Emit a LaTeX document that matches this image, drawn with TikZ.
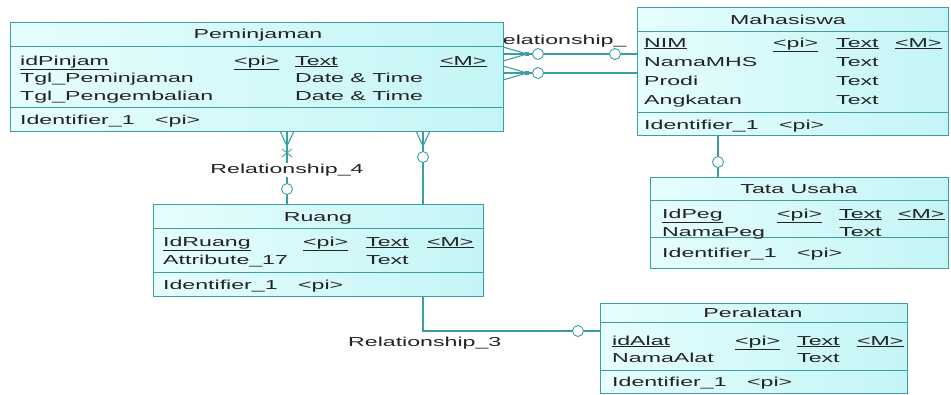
\documentclass[tikz,border=0pt]{standalone}
\usepackage{fontspec}
\setmainfont{Liberation Sans}
\usepackage{graphicx}
\usetikzlibrary{backgrounds}
\definecolor{erline}{RGB}{60,158,162}
\definecolor{erfillA}{RGB}{230,253,253}
\definecolor{erfillB}{RGB}{196,245,246}
\definecolor{ertext}{RGB}{35,35,35}
\newcommand{\erw}[1]{\scalebox{1.78}[1]{#1}}
\tikzset{
  ent/.style={draw=erline, line width=1pt, left color=erfillA, right color=erfillB, inner sep=0pt, anchor=north west},
  sepl/.style={draw=erline, line width=1pt},
  txt/.style={inner sep=0pt, anchor=base west, text=ertext, font=\fontsize{13}{15}\selectfont},
  ttl/.style={txt, anchor=base},
  rel/.style={draw=erline, line width=1.1pt},
  opt/.style={circle, draw=erline, fill=white, line width=0.9pt, minimum size=11pt, inner sep=0pt},
  dot/.style={rectangle, fill=erline, minimum size=3.5pt, inner sep=0pt},
  rlbl/.style={txt, fill=white, inner sep=1pt}
}
\begin{document}
\begin{tikzpicture}[x=1pt, y=-1pt]
\useasboundingbox (0,0) rectangle (951,394);
% entities
\node[ent, minimum width=493pt, minimum height=109pt] (pem) at (10,22) {};
\draw[sepl] (pem.west |- 0,46) -- (pem.east |- 0,46) (pem.west |- 0,107) -- (pem.east |- 0,107);
\node[ttl] (pem-t) at (258,38) {\erw{Peminjaman}};
\node[txt] (pem-k) at (20,65) {\erw{\underline{idPinjam}}};
\node[txt] (pem-p) at (234,65) {\erw{\underline{<pi>}}};
\node[txt] (pem-d) at (295,65) {\erw{\underline{Text}}};
\node[txt] (pem-m) at (440,65) {\erw{\underline{<M>}}};
\foreach \i/\y/\nm in {1/82/Tgl\_Peminjaman, 2/100/Tgl\_Pengembalian}{
  \node[txt] (pem-a\i) at (20,\y) {\erw{\nm}};
  \node[txt] (pem-d\i) at (295,\y) {\erw{Date \& Time}};
}
\node[txt] (pem-i) at (20,124) {\erw{Identifier\_1\hspace{11.5pt}<pi>}};

\node[ent, minimum width=311pt, minimum height=128pt] (mhs) at (637,7) {};
\draw[sepl] (mhs.west |- 0,31) -- (mhs.east |- 0,31) (mhs.west |- 0,112) -- (mhs.east |- 0,112);
\node[ttl] (mhs-t) at (788,24) {\erw{Mahasiswa}};
\node[txt] (mhs-k) at (644,47) {\erw{\underline{NIM}}};
\node[txt] (mhs-p) at (773,47) {\erw{\underline{<pi>}}};
\node[txt] (mhs-d) at (836,47) {\erw{\underline{Text}}};
\node[txt] (mhs-m) at (895,47) {\erw{\underline{<M>}}};
\foreach \i/\y/\nm in {1/66/NamaMHS, 2/85/Prodi, 3/104/Angkatan}{
  \node[txt] (mhs-a\i) at (644,\y) {\erw{\nm}};
  \node[txt] (mhs-d\i) at (836,\y) {\erw{Text}};
}
\node[txt] (mhs-i) at (644,129) {\erw{Identifier\_1\hspace{11.5pt}<pi>}};

\node[ent, minimum width=298pt, minimum height=91pt] (tu) at (650,177) {};
\draw[sepl] (tu.west |- 0,200) -- (tu.east |- 0,200) (tu.west |- 0,237) -- (tu.east |- 0,237);
\node[ttl] (tu-t) at (799,193) {\erw{Tata Usaha}};
\node[txt] (tu-k) at (662,218) {\erw{\underline{IdPeg}}};
\node[txt] (tu-p) at (777,218) {\erw{\underline{<pi>}}};
\node[txt] (tu-d) at (839,218) {\erw{\underline{Text}}};
\node[txt] (tu-m) at (898,218) {\erw{\underline{<M>}}};
\node[txt] (tu-a1) at (662,236) {\erw{NamaPeg}};
\node[txt] (tu-d1) at (839,236) {\erw{Text}};
\node[txt] (tu-i) at (662,257) {\erw{Identifier\_1\hspace{11.5pt}<pi>}};

\node[ent, minimum width=330pt, minimum height=92pt] (ruang) at (153,204) {};
\draw[sepl] (ruang.west |- 0,228) -- (ruang.east |- 0,228) (ruang.west |- 0,272) -- (ruang.east |- 0,272);
\node[ttl] (ruang-t) at (318,221) {\erw{Ruang}};
\node[txt] (ruang-k) at (163,246) {\erw{\underline{IdRuang}}};
\node[txt] (ruang-p) at (303,246) {\erw{\underline{<pi>}}};
\node[txt] (ruang-d) at (366,246) {\erw{\underline{Text}}};
\node[txt] (ruang-m) at (427,246) {\erw{\underline{<M>}}};
\node[txt] (ruang-a1) at (163,264) {\erw{Attribute\_17}};
\node[txt] (ruang-d1) at (366,264) {\erw{Text}};
\node[txt] (ruang-i) at (163,289) {\erw{Identifier\_1\hspace{11.5pt}<pi>}};

\node[ent, minimum width=307pt, minimum height=90pt] (alat) at (600,303) {};
\draw[sepl] (alat.west |- 0,322) -- (alat.east |- 0,322) (alat.west |- 0,370) -- (alat.east |- 0,370);
\node[ttl] (alat-t) at (753,317) {\erw{Peralatan}};
\node[txt] (alat-k) at (612,345) {\erw{\underline{idAlat}}};
\node[txt] (alat-p) at (735,345) {\erw{\underline{<pi>}}};
\node[txt] (alat-d) at (797,345) {\erw{\underline{Text}}};
\node[txt] (alat-m) at (857,345) {\erw{\underline{<M>}}};
\node[txt] (alat-a1) at (612,362) {\erw{NamaAlat}};
\node[txt] (alat-d1) at (797,362) {\erw{Text}};
\node[txt] (alat-i) at (612,386) {\erw{Identifier\_1\hspace{11.5pt}<pi>}};

% relationships
\coordinate (c1) at (527,54);
\coordinate (c2) at (527,73);
\draw[rel] (pem.east |- c1) -- (mhs.west |- c1);
\draw[rel] (pem.east |- c2) -- (mhs.west |- c2);
\draw[rel] (c1) -- ++(-24,-7) (c1) -- ++(-24,7);
\draw[rel] (c2) -- ++(-24,-7) (c2) -- ++(-24,7);
\node[dot] (c1-d) at (c1) {};
\node[dot] (c2-d) at (c2) {};
\node[opt] (c1-o) at (538,54) {};
\node[opt] (c1-m) at (615,54) {};
\node[opt] (c2-o) at (538,73) {};
\begin{scope}[on background layer]
\node[txt] (r1) at (486,44) {\erw{Relationship\_}};
\end{scope}

\coordinate (r4) at (287,146);
\draw[rel] (r4 |- pem.south) -- (r4 |- ruang.north);
\draw[rel] (r4) -- ++(-7,-15) (r4) -- ++(7,-15);
\draw[rel, line width=0.8pt] (282,149) -- (292,157) (292,149) -- (282,157);
\node[rlbl, anchor=base] (r4-l) at (287,173) {\erw{Relationship\_4}};
\node[opt] (r4-o) at (287,189) {};

\coordinate (r2) at (423,146);
\draw[rel] (r2 |- pem.south) -- (r2 |- ruang.north);
\draw[rel] (r2) -- ++(-7,-15) (r2) -- ++(7,-15);
\node[opt] (r2-o) at (423,157) {};

\coordinate (r5) at (718,162);
\draw[rel] (r5 |- mhs.south) -- (r5 |- tu.north);
\node[opt] (r5-o) at (r5) {};

\coordinate (r3) at (423,331);
\draw[rel] (r3 |- ruang.south) -- (r3) -- (r3 -| alat.west);
\node[opt] (r3-o) at (578,331) {};
\node[txt] (r3-l) at (348,346) {\erw{Relationship\_3}};
\end{tikzpicture}
\end{document}
